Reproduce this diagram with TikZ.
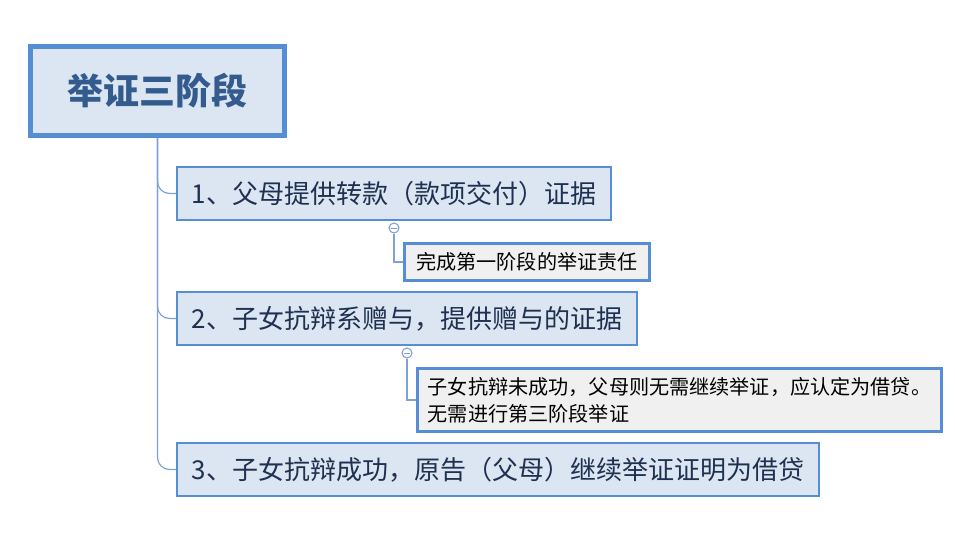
\documentclass[tikz,border=0pt]{standalone}
\usepackage{fontspec}
\setmainfont{Noto Sans CJK SC}
\usetikzlibrary{calc}
\definecolor{bordc}{HTML}{558ED5}
\definecolor{fillb}{HTML}{DCE6F2}
\definecolor{fillg}{HTML}{F0F0F0}
\definecolor{linec}{HTML}{7EA2D6}
\definecolor{roottxt}{HTML}{335B8E}
\definecolor{maintxt}{HTML}{1F3050}
\tikzset{
  rootbox/.style={draw=bordc, line width=3.75pt, fill=fillb, anchor=north west, inner sep=0pt,
    text=roottxt, font=\fontsize{27pt}{32pt}\selectfont\bfseries},
  mainbox/.style={draw=bordc, line width=1.5pt, fill=fillb, anchor=north west, inner sep=0pt,
    text=maintxt, font=\fontsize{19.5pt}{24pt}\selectfont},
  childbox/.style={draw=bordc, line width=2.2pt, fill=fillg, anchor=north west, inner sep=0pt,
    text=black, font=\fontsize{15.1pt}{20.3pt}\selectfont, align=left},
  conn/.style={draw=linec, line width=0.9pt},
  togg/.style={circle, draw=linec, fill=white, line width=0.8pt, minimum size=7.5pt, inner sep=0pt},
}
\begin{document}
\begin{tikzpicture}[x=0.75pt, y=-0.75pt]
\path[use as bounding box, fill=white] (0,0) rectangle (955,540);

% root
\node[rootbox, minimum width=254*0.75pt, minimum height=89*0.75pt] (root) at (28,44) {举证三阶段};

% main boxes
\node[mainbox, minimum width=434*0.75pt, minimum height=53*0.75pt] (b1) at (176,166) {1、父母提供转款（款项交付）证据};
\node[mainbox, minimum width=460*0.75pt, minimum height=53*0.75pt] (b2) at (176,291) {2、子女抗辩系赠与，提供赠与的证据};
\node[mainbox, minimum width=642*0.75pt, minimum height=53*0.75pt] (b3) at (176,442) {3、子女抗辩成功，原告（父母）继续举证证明为借贷};

% child boxes
\node[childbox, minimum width=245*0.75pt, minimum height=37*0.75pt] (c1) at (403,242) {完成第一阶段的举证责任};
\node[childbox, minimum width=524*0.75pt, minimum height=63*0.75pt] (c2) at (416,367) {子女抗辩未成功，父母则无需继续举证，应认定为借贷。\\无需进行第三阶段举证};

% trunk connectors
\draw[conn, rounded corners=9pt] (root.south) |- (b1.west);
\draw[conn, rounded corners=9pt] (root.south) |- (b2.west);
\draw[conn, rounded corners=9pt] (root.south) |- (b3.west);

% toggles and child connectors
\node[togg] (t1) at ($(b1.south)+(0,7)$) {};
\node[togg] (t2) at ($(b2.south)+(0,7)$) {};
\draw[conn] (t1.south) |- (c1.west);
\draw[conn] (t2.south) |- (c2.west);
\draw[draw=linec, line width=0.7pt] ($(t1.center)+(-3,0)$) -- ($(t1.center)+(3,0)$);
\draw[draw=linec, line width=0.7pt] ($(t2.center)+(-3,0)$) -- ($(t2.center)+(3,0)$);
\end{tikzpicture}
\end{document}
